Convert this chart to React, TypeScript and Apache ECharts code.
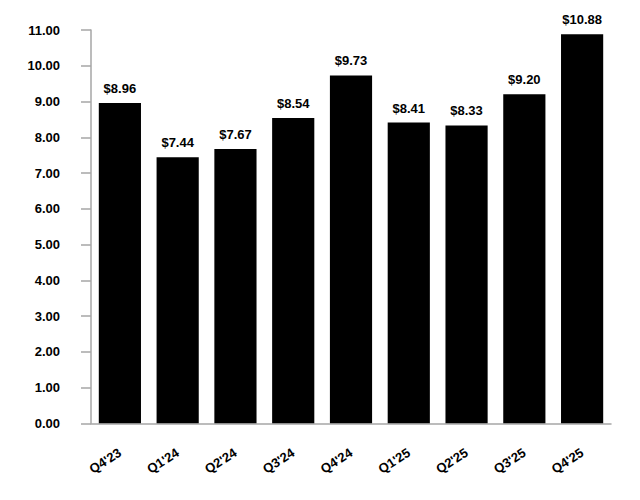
import React, { useEffect, useRef } from "react";
import * as echarts from "echarts";

const categories = ["Q4'23", "Q1'24", "Q2'24", "Q3'24", "Q4'24", "Q1'25", "Q2'25", "Q3'25", "Q4'25"];
const values = [8.96, 7.44, 7.67, 8.54, 9.73, 8.41, 8.33, 9.2, 10.88];

export default function App() {
  const ref = useRef<HTMLDivElement>(null);
  useEffect(() => {
    document.body.style.margin = "0";
    const chart = echarts.init(ref.current!, null, { renderer: "svg" });
    const font = "'Liberation Sans', Arial, sans-serif";
    chart.setOption({
      animation: false,
      backgroundColor: "#ffffff",
      grid: { left: 91, right: 29, top: 30, bottom: 76.7, containLabel: false },
      xAxis: {
        type: "category",
        data: categories,
        axisLine: { show: true, lineStyle: { color: "#a6a6a6", width: 1.5 } },
        axisTick: { show: false },
        axisLabel: {
          rotate: 33,
          margin: 28,
          color: "#000",
          fontWeight: "bold",
          fontSize: 13,
          fontFamily: font,
        },
      },
      yAxis: {
        type: "value",
        min: 0,
        max: 11,
        interval: 1,
        splitLine: { show: false },
        axisLine: { show: true, lineStyle: { color: "#a6a6a6", width: 1.5 } },
        axisTick: { show: true, length: 10, lineStyle: { color: "#a6a6a6", width: 1.5 } },
        axisLabel: {
          margin: 31,
          color: "#000",
          fontWeight: "bold",
          fontSize: 13,
          fontFamily: font,
          formatter: (v: number) => v.toFixed(2),
        },
      },
      series: [
        {
          type: "bar",
          data: values,
          barWidth: "73%",
          itemStyle: { color: "#000000" },
          label: {
            show: true,
            position: "top",
            distance: 8,
            color: "#000",
            fontWeight: "bold",
            fontSize: 13,
            fontFamily: font,
            formatter: (p: any) => "$" + Number(p.value).toFixed(2),
          },
        },
      ],
    });
    return () => chart.dispose();
  }, []);
  return <div ref={ref} style={{ width: 640, height: 500 }} />;
}
